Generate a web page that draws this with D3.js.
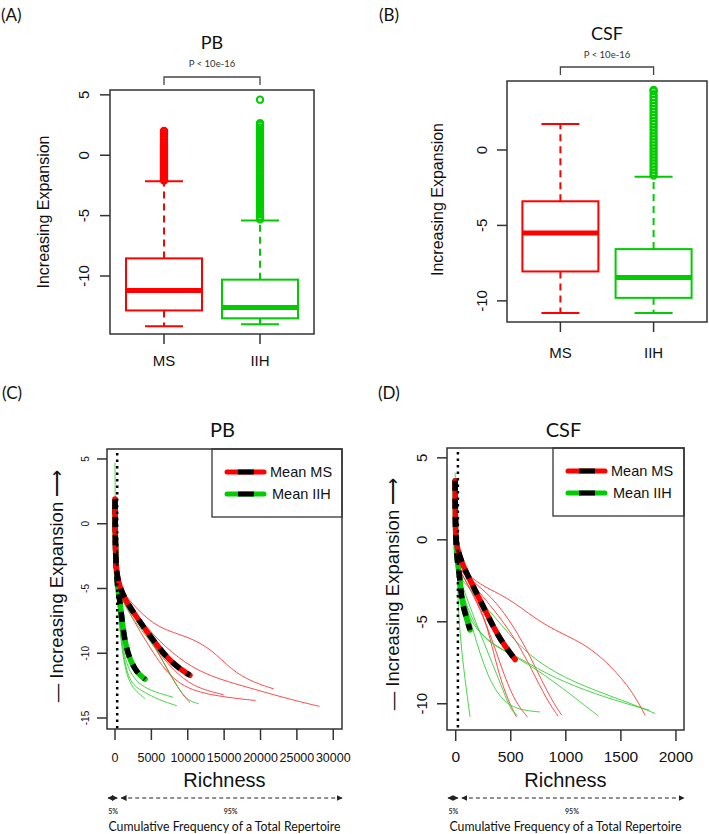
<!DOCTYPE html>
<html><head><meta charset="utf-8">
<script src="https://cdn.jsdelivr.net/npm/d3@7"></script>
<style>body{margin:0;background:#fff}svg{display:block}</style>
</head><body>
<svg id="chart" width="709" height="834"></svg>
<script>
// ---------- DATA ----------
const groups = ["MS", "IIH"];
// boxplot stats: [lower whisker, Q1, median, Q3, upper whisker]
const pbMS  = [-14.15, -12.85, -11.2, -8.54, -2.15];
const pbIIH = [-14.0, -13.5, -12.6, -10.3, -5.4];
const csfMS  = [-10.8, -8.05, -5.5, -3.4, 1.72];
const csfIIH = [-10.8, -9.8, -8.45, -6.57, -1.77];
const pbMSOut  = [-2.1,-2.0,-1.9,-1.8,-1.7,-1.6,-1.5,-1.4,-1.3,-1.2,-1.1,-1.0,-0.9,-0.8,-0.7,-0.6,-0.5,-0.4,-0.3,-0.2,-0.1,0.0,0.1,0.2,0.3,0.4,0.5,0.6,0.7,0.8,0.95,1.1,1.3,1.5,1.65,1.8,1.95,2.0];
const pbIIHOut = [-5.3,-5.1,-4.9,-4.7,-4.5,-4.3,-4.1,-3.9,-3.7,-3.5,-3.3,-3.1,-2.9,-2.7,-2.5,-2.3,-2.1,-1.9,-1.7,-1.5,-1.3,-1.1,-0.9,-0.7,-0.5,-0.3,-0.1,0.1,0.3,0.5,0.7,0.9,1.1,1.3,1.5,1.7,1.9,2.1,2.3,2.5,2.65,4.6];
const csfMSOut  = [];
const csfIIHOut = [-1.7,-1.5,-1.3,-1.1,-0.9,-0.7,-0.5,-0.3,-0.1,0.1,0.3,0.5,0.7,0.9,1.1,1.3,1.5,1.7,1.9,2.1,2.3,2.5,2.7,2.9,3.1,3.3,3.5,3.7,3.9,3.97];
const pbTicksY  = [-10, -5, 0, 5];
const csfTicksY = [-10, -5, 0];

// richness curves [richness, expansion]
const pbMeanMS  = [[0,1.9],[20,0],[60,-2],[200,-3.8],[600,-4.8],[1400,-5.9],[3200,-7.4],[5500,-9.2],[7800,-10.8],[10300,-11.7]];
const pbMeanIIH = [[0,1.5],[30,-1],[150,-3.5],[400,-5.2],[690,-5.9],[1140,-8.45],[1830,-10.25],[2980,-11.5],[4130,-12.0]];
const pbLinesMS = [
  [[300,-4.5],[900,-5.2],[3000,-6.6],[6000,-8.1],[10000,-8.7],[13300,-9.7],[16000,-11.3],[18800,-12.2],[21800,-12.75]],
  [[300,-4.5],[1000,-5.5],[3500,-7.5],[7000,-9.6],[10500,-11.1],[14200,-12.0],[19300,-12.8],[24300,-13.6],[28100,-14.1]],
  [[300,-4.6],[1000,-5.8],[4000,-8.3],[6500,-10.4],[9500,-12.1],[12000,-12.8],[14900,-13.2]],
  [[300,-4.6],[1200,-6.2],[5000,-9.8],[8000,-12.2],[12000,-13.2],[19300,-13.65]],
  [[300,-5.0],[1500,-6.5],[4590,-8.45],[7340,-11.5],[9400,-13.3],[10300,-13.8]]
];
const pbLinesIIH = [
  [[0,4.7],[40,0],[120,-3],[300,-5],[500,-7],[800,-9],[1300,-11],[2000,-12.3],[3000,-13.0],[4130,-13.5]],
  [[300,-5],[600,-7.5],[1000,-9.5],[1600,-11.5],[2500,-12.5],[4000,-13.0],[6000,-13.6],[8490,-14.05]],
  [[300,-5],[1500,-6.5],[3000,-7.8],[5500,-9.5],[7800,-11.8],[9630,-13.6],[11500,-13.9]],
  [[300,-5.5],[700,-8],[1200,-10],[2000,-11.5],[3500,-12.5],[5500,-13.0],[8000,-13.4]]
];
const csfMeanMS  = [[-5,3.6],[-4,2],[0,0],[15,-0.5],[55,-1.4],[115,-2.25],[205,-3.47],[296,-4.7],[403,-6.1],[540,-7.3]];
const csfMeanIIH = [[-5,3.6],[-4,2],[0,0],[10,-1],[25,-1.8],[39,-2.4],[55,-3.67],[85,-4.5],[130,-5.5]];
const csfLinesMS = [
  [[30,-1.5],[150,-2.4],[300,-3.0],[509,-3.67],[812,-5.3],[1175,-6.3],[1418,-7.75],[1600,-9.2],[1720,-10.7]],
  [[40,-1.8],[200,-2.8],[357,-3.67],[569,-5.7],[721,-7.75],[872,-9.8],[963,-10.7]],
  [[40,-1.8],[190,-3.0],[340,-4.2],[540,-6.0],[690,-7.9],[830,-9.8],[930,-10.75]],
  [[40,-1.9],[150,-3.2],[266,-4.7],[357,-7.3],[448,-9.4],[551,-10.8]],
  [[40,-1.9],[180,-3.6],[312,-5.7],[430,-8.1],[540,-9.9],[651,-10.8]]
];
const csfLinesIIH = [
  [[-5,4.1],[5,0],[15,-2],[24,-4.7],[69,-7.75],[130,-10.8]],
  [[25,-2.5],[100,-4],[145,-5.3],[296,-8.57],[448,-10.0],[600,-10.4],[766,-10.5]],
  [[30,-2.5],[115,-5.1],[357,-6.5],[660,-7.55],[963,-9.0],[1296,-10.75]],
  [[30,-2.2],[150,-3.2],[357,-4.7],[600,-6.7],[903,-8.16],[1266,-9.2],[1600,-10.0],[1812,-10.6]],
  [[30,-2.6],[205,-6.1],[509,-6.9],[812,-8.16],[1175,-9.2],[1550,-10.0],[1760,-10.4]],
  [[20,-2.0],[150,-4.5],[300,-7.0],[420,-9.0],[500,-10.4],[560,-10.7]]
];
const pbTicksX  = [0, 5000, 10000, 15000, 20000, 25000, 30000];
const pbTicksY2 = [-15, -10, -5, 0, 5];
const csfTicksX = [0, 500, 1000, 1500, 2000];
const csfTicksY2 = [-10, -5, 0, 5];
const pbCut = 300, csfCut = 20;
const legendLabels = ["Mean MS", "Mean IIH"];

// ---------- DRAW ----------
const RED = "#ff0000", GREEN = "#00cc00";
const svg = d3.select("#chart");
const FONT = "'Liberation Sans', Arial, sans-serif";
const CAL = "Lato, 'Open Sans', sans-serif";

function txt(x, y, s, size, opt = {}) {
  const t = svg.append("text").attr("x", x).attr("y", y).text(s)
    .attr("font-family", opt.font || FONT).attr("font-size", size)
    .attr("text-anchor", opt.anchor || "middle").attr("fill", opt.fill || "#111");
  if (opt.rot) t.attr("transform", `rotate(-90,${x},${y})`).attr("dominant-baseline", "central");
  if (opt.db) t.attr("dominant-baseline", opt.db);
  if (opt.weight) t.attr("font-weight", opt.weight);
  return t;
}

function boxPanel(cfg) {
  const x = d3.scalePoint().domain(groups).range([cfg.L, cfg.R]).padding(cfg.pad);
  const y = d3.scaleLinear().domain(cfg.yDom).range([cfg.B, cfg.T]);
  const g = svg.append("g");
  const stats = {MS: cfg.ms, IIH: cfg.iih};
  const outs = {MS: cfg.msOut, IIH: cfg.iihOut};
  const col = {MS: RED, IIH: GREEN};
  const hw = 38, cw = 19;
  groups.forEach(k => {
    const s = stats[k], cx = x(k), c = col[k];
    // whiskers
    g.append("line").attr("x1", cx).attr("x2", cx).attr("y1", y(s[1])).attr("y2", y(s[0]))
      .attr("stroke", c).attr("stroke-width", 2).attr("stroke-dasharray", "7,5");
    g.append("line").attr("x1", cx).attr("x2", cx).attr("y1", y(s[3])).attr("y2", y(s[4]))
      .attr("stroke", c).attr("stroke-width", 2).attr("stroke-dasharray", "7,5");
    [s[0], s[4]].forEach(v => g.append("line").attr("x1", cx - cw).attr("x2", cx + cw)
      .attr("y1", y(v)).attr("y2", y(v)).attr("stroke", c).attr("stroke-width", 2));
    g.append("rect").attr("x", cx - hw).attr("width", 2 * hw).attr("y", y(s[3]))
      .attr("height", y(s[1]) - y(s[3])).attr("fill", "white").attr("stroke", c).attr("stroke-width", 2);
    g.append("line").attr("x1", cx - hw).attr("x2", cx + hw).attr("y1", y(s[2])).attr("y2", y(s[2]))
      .attr("stroke", c).attr("stroke-width", 5);
    g.selectAll(null).data(outs[k]).join("circle").attr("cx", cx).attr("cy", d => y(d)).attr("r", 3.2)
      .attr("fill", "none").attr("stroke", c).attr("stroke-width", 2);
  });
  g.append("rect").attr("x", cfg.L).attr("y", cfg.T).attr("width", cfg.R - cfg.L).attr("height", cfg.B - cfg.T)
    .attr("fill", "none").attr("stroke", "#333").attr("stroke-width", 1.5);
  // y ticks
  cfg.ticks.forEach(v => {
    g.append("line").attr("x1", cfg.L - 10).attr("x2", cfg.L).attr("y1", y(v)).attr("y2", y(v))
      .attr("stroke", "#333").attr("stroke-width", 1.5);
    txt(cfg.tickLabX, y(v), String(v), 15, {rot: true});
  });
  groups.forEach(k => {
    g.append("line").attr("x1", x(k)).attr("x2", x(k)).attr("y1", cfg.B).attr("y2", cfg.B + 10)
      .attr("stroke", "#333").attr("stroke-width", 1.5);
    txt(x(k), cfg.catY, k, 15);
  });
  txt(cfg.ylabX, (cfg.T + cfg.B) / 2 + cfg.ylabDy, "Increasing Expansion", 16, {rot: true});
  // title, p-value, bracket
  txt((x("MS") + x("IIH")) / 2, cfg.titleY, cfg.title, 18, {font: CAL});
  txt((x("MS") + x("IIH")) / 2, cfg.pY, "P < 10e-16", 9.5, {font: CAL, fill: "#333"});
  g.append("path").attr("d", `M${x("MS")},${cfg.brY + 8}V${cfg.brY}H${x("IIH")}V${cfg.brY + 8}`)
    .attr("fill", "none").attr("stroke", "#444").attr("stroke-width", 1.3);
}

boxPanel({L: 110, R: 314, T: 90, B: 334, pad: 0.5625, yDom: [-14.8, 5.4], ms: pbMS, iih: pbIIH,
  msOut: pbMSOut, iihOut: pbIIHOut, ticks: pbTicksY, tickLabX: 84, catY: 366, ylabX: 43, ylabDy: 0,
  title: "PB", titleY: 49, pY: 67, brY: 77});
boxPanel({L: 507, R: 707, T: 81, B: 322, pad: 0.573, yDom: [-11.4, 4.57], ms: csfMS, iih: csfIIH,
  msOut: csfMSOut, iihOut: csfIIHOut, ticks: csfTicksY, tickLabX: 482, catY: 358, ylabX: 437, ylabDy: -2,
  title: "CSF", titleY: 40, pY: 58, brY: 67});

// arrow marker
const defs = svg.append("defs");
["mEnd", "mStart"].forEach((id, i) => {
  defs.append("marker").attr("id", id).attr("viewBox", "0 0 10 10").attr("refX", i ? 1 : 9).attr("refY", 5)
    .attr("markerWidth", 5).attr("markerHeight", 5).attr("orient", "auto")
    .append("path").attr("d", i ? "M10,0L0,5L10,10Z" : "M0,0L10,5L0,10Z").attr("fill", "#222");
});

function curvePanel(cfg) {
  const x = d3.scaleLinear().domain(cfg.xDom).range([cfg.L, cfg.R]);
  const y = d3.scaleLinear().domain(cfg.yDom).range([cfg.B, cfg.T]);
  const g = svg.append("g");
  const line = d3.line().x(d => x(d[0])).y(d => y(d[1])).curve(d3.curveBasis);
  const cp = "clip" + cfg.id;
  defs.append("clipPath").attr("id", cp).append("rect").attr("x", cfg.L).attr("y", cfg.T)
    .attr("width", cfg.R - cfg.L).attr("height", cfg.B - cfg.T);
  const pg = g.append("g").attr("clip-path", `url(#${cp})`);
  cfg.linesMS.forEach(l => pg.append("path").attr("d", line(l)).attr("fill", "none")
    .attr("stroke", "#ff2a2a").attr("stroke-width", 1).attr("stroke-opacity", 0.85));
  cfg.linesIIH.forEach(l => pg.append("path").attr("d", line(l)).attr("fill", "none")
    .attr("stroke", "#2ccc2c").attr("stroke-width", 1).attr("stroke-opacity", 0.85));
  [[cfg.meanIIH, GREEN], [cfg.meanMS, RED]].forEach(([m, c]) => {
    pg.append("path").attr("d", line(m)).attr("fill", "none").attr("stroke", c)
      .attr("stroke-width", 5.5).attr("stroke-linecap", "round");
    pg.append("path").attr("d", line(m)).attr("fill", "none").attr("stroke", "#000")
      .attr("stroke-width", 5.5).attr("stroke-dasharray", "10,8");
  });
  pg.append("line").attr("x1", x(cfg.cut)).attr("x2", x(cfg.cut)).attr("y1", cfg.T + 4).attr("y2", cfg.B)
    .attr("stroke", "#000").attr("stroke-width", 2.5).attr("stroke-dasharray", "2.5,4");
  // legend
  g.append("rect").attr("x", cfg.lgX).attr("y", cfg.T).attr("width", cfg.R - cfg.lgX).attr("height", 68)
    .attr("fill", "white").attr("stroke", "#333").attr("stroke-width", 1.3);
  legendLabels.forEach((lab, i) => {
    const ly = cfg.T + 23 + i * 22, lx = cfg.lgX + 15;
    const c = i ? GREEN : RED;
    g.append("line").attr("x1", lx).attr("x2", lx + 37).attr("y1", ly).attr("y2", ly)
      .attr("stroke", c).attr("stroke-width", 5).attr("stroke-linecap", "round");
    g.append("line").attr("x1", lx + 11).attr("x2", lx + 27).attr("y1", ly).attr("y2", ly)
      .attr("stroke", "#000").attr("stroke-width", 5);
    txt(lx + 43 + i * 2, ly + 5, lab, 14.5, {anchor: "start"});
  });
  g.append("rect").attr("x", cfg.L).attr("y", cfg.T).attr("width", cfg.R - cfg.L).attr("height", cfg.B - cfg.T)
    .attr("fill", "none").attr("stroke", "#333").attr("stroke-width", 1.5);
  cfg.ticksY.forEach(v => {
    g.append("line").attr("x1", cfg.L - 10).attr("x2", cfg.L).attr("y1", y(v)).attr("y2", y(v))
      .attr("stroke", "#333").attr("stroke-width", 1.5);
    txt(cfg.tyX, y(v), String(v), cfg.tyFs, {rot: true});
  });
  cfg.ticksX.forEach(v => {
    g.append("line").attr("x1", x(v)).attr("x2", x(v)).attr("y1", cfg.B).attr("y2", cfg.B + 11)
      .attr("stroke", "#333").attr("stroke-width", 1.5);
    txt(x(v), 762, String(v), cfg.txFs);
  });
  txt((cfg.L + cfg.R) / 2 - 2, 437, cfg.title, 20, {font: CAL});
  txt(cfg.ylabX, cfg.ylabY, "\u2014 Increasing Expansion \u27F6", 18.5, {rot: true});
  txt((cfg.L + cfg.R) / 2, 787, "Richness", 20);
  // cumulative frequency arrows
  const xc = x(cfg.cut) + 2;
  [[cfg.L, xc - 1], [xc + 1, cfg.R + 1]].forEach(([a, b]) => {
    g.append("line").attr("x1", a + 1).attr("x2", b - 1).attr("y1", 798).attr("y2", 798)
      .attr("stroke", "#222").attr("stroke-width", 1.2).attr("stroke-dasharray", "4,3")
      .attr("marker-start", "url(#mStart)").attr("marker-end", "url(#mEnd)");
  });
  txt((cfg.L + xc) / 2, 814, "5%", 7, {font: CAL, weight: "bold", fill: "#333"});
  txt((xc + cfg.R) / 2, 814, "95%", 7, {font: CAL, weight: "bold", fill: "#333"});
  txt((cfg.L + cfg.R) / 2, 831, "Cumulative Frequency of a Total Repertoire", 12.5, {font: CAL})
    .attr("textLength", 232).attr("lengthAdjust", "spacingAndGlyphs");
}

curvePanel({id: "C", L: 107, R: 342, T: 449, B: 729, xDom: [-1100, 31200], yDom: [-15.85, 5.77],
  meanMS: pbMeanMS, meanIIH: pbMeanIIH, linesMS: pbLinesMS, linesIIH: pbLinesIIH, cut: pbCut,
  lgX: 212, ticksY: pbTicksY2, ticksX: pbTicksX, tyX: 86, tyFs: 10, txFs: 12.5,
  title: "PB", ylabX: 56, ylabY: 586});
curvePanel({id: "D", L: 447, R: 684, T: 448, B: 730, xDom: [-79, 2073], yDom: [-11.6, 5.6],
  meanMS: csfMeanMS, meanIIH: csfMeanIIH, linesMS: csfLinesMS, linesIIH: csfLinesIIH, cut: csfCut,
  lgX: 553, ticksY: csfTicksY2, ticksX: csfTicksX, tyX: 422, tyFs: 15, txFs: 15.5,
  title: "CSF", ylabX: 392, ylabY: 594});

// panel letters
txt(1, 21, "(A)", 17, {font: CAL, anchor: "start"});
txt(379, 21, "(B)", 17, {font: CAL, anchor: "start"});
txt(2, 399, "(C)", 17, {font: CAL, anchor: "start"});
txt(378, 399, "(D)", 17, {font: CAL, anchor: "start"});
</script>
</body></html>
